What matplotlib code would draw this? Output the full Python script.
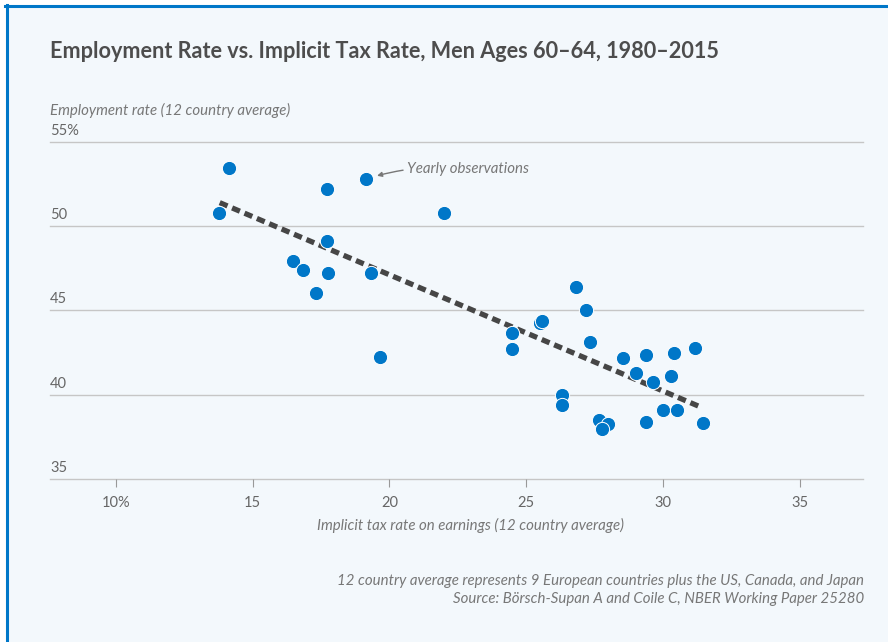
import matplotlib
matplotlib.use("Agg")
import matplotlib.pyplot as plt
from matplotlib.patches import Rectangle
from matplotlib.lines import Line2D

# data
tax_rate = [13.78, 14.13, 17.71, 19.15, 22.01, 17.72, 16.49, 16.84, 17.77, 19.33,
            17.31, 19.67, 24.47, 24.48, 25.50, 25.59, 26.82, 27.18, 27.33, 26.31,
            26.32, 27.66, 27.97, 27.77, 28.52, 29.39, 30.41, 31.17, 29.01, 29.64,
            30.29, 30.00, 30.52, 29.36, 31.46]
employment = [50.80, 53.44, 52.21, 52.81, 50.80, 49.12, 47.94, 47.38, 47.24, 47.24,
              46.02, 42.25, 43.64, 42.71, 44.23, 44.37, 46.37, 45.01, 43.16, 40.01,
              39.38, 38.49, 38.25, 37.94, 42.21, 42.35, 42.47, 42.75, 41.30, 40.75,
              41.13, 39.11, 39.08, 38.37, 38.31]
trend_x = [13.8, 31.4]
trend_y = [51.4, 39.25]

x_ticks = [10, 15, 20, 25, 30, 35]
x_labels = ["10%", "15", "20", "25", "30", "35"]
y_ticks = [35, 40, 45, 50, 55]
y_labels = ["35", "40", "45", "50", "55%"]

BG = "#f3f8fc"
BLUE = "#0077c8"
W, H = 888, 642

plt.rcParams["font.family"] = ["Lato", "DejaVu Sans"]

fig = plt.figure(figsize=(W / 100, H / 100), dpi=100, facecolor="white")

def fx(px):
    return px / W

def fy(py):
    return 1 - py / H

# card background + blue border (top and left)
fig.patches.append(Rectangle((fx(6), 0), 1, fy(5), transform=fig.transFigure,
                             facecolor=BG, edgecolor="none", zorder=-5))
fig.lines.append(Line2D([fx(6.5), fx(6.5)], [0, fy(5)], transform=fig.transFigure,
                        color=BLUE, lw=2.2, zorder=1))
fig.lines.append(Line2D([fx(5), 1], [fy(6), fy(6)], transform=fig.transFigure,
                        color=BLUE, lw=2.2, zorder=1))

ax = fig.add_axes([fx(50), fy(479), fx(863) - fx(50), fy(142) - fy(479)])
ax.set_facecolor(BG)
ax.set_xlim(7.6, 37.3)
ax.set_ylim(35, 55)

for s in ax.spines.values():
    s.set_visible(False)

# gridlines
for v in y_ticks:
    ax.axhline(v, color="#c6c6c6", lw=1.0, zorder=1, clip_on=False)

# y labels sit above gridlines
ax.set_yticks([])
for v, lab in zip(y_ticks, y_labels):
    ax.annotate(lab, xy=(0, v), xycoords=("axes fraction", "data"),
                xytext=(0, 3), textcoords="offset points",
                ha="left", va="bottom", fontsize=10.5, color="#666666")

ax.set_xticks(x_ticks)
ax.set_xticklabels(x_labels)
ax.tick_params(axis="x", length=6, width=0.8, color="#999999", pad=6,
               labelsize=10.5, labelcolor="#666666")

ax.plot(trend_x, trend_y, color="#464646", lw=3.8, dashes=(1.6, 0.95),
        solid_capstyle="butt", dash_capstyle="butt", zorder=2)
ax.scatter(tax_rate, employment, s=105, color=BLUE, edgecolors="white",
           linewidths=0.7, zorder=3)

ax.annotate("Yearly observations", xy=(19.45, 52.95), xytext=(20.65, 53.4),
            ha="left", va="center", fontsize=10.8, style="italic", color="#777777",
            arrowprops=dict(arrowstyle="-|>", color="#777777", lw=1.0,
                            mutation_scale=7, shrinkA=1, shrinkB=2,
                            connectionstyle="arc3,rad=0.1"))

fig.text(fx(50), fy(52), "Employment Rate vs. Implicit Tax Rate, Men Ages 60\u201364, 1980\u20132015",
         ha="left", va="center", fontsize=15.6, fontweight="bold", color="#4d4d4d")
fig.text(fx(50), fy(110), "Employment rate (12 country average)",
         ha="left", va="center", fontsize=10.8, style="italic", color="#777777")
fig.text(fx(470), fy(525), "Implicit tax rate on earnings (12 country average)",
         ha="center", va="center", fontsize=10.8, style="italic", color="#777777")
fig.text(fx(864), fy(581), "12 country average represents 9 European countries plus the US, Canada, and Japan",
         ha="right", va="center", fontsize=10.8, style="italic", color="#777777")
fig.text(fx(864), fy(599), "Source: B\u00f6rsch-Supan A and Coile C, NBER Working Paper 25280",
         ha="right", va="center", fontsize=10.8, style="italic", color="#777777")

fig.savefig("out.png", dpi=100, facecolor=fig.get_facecolor())
